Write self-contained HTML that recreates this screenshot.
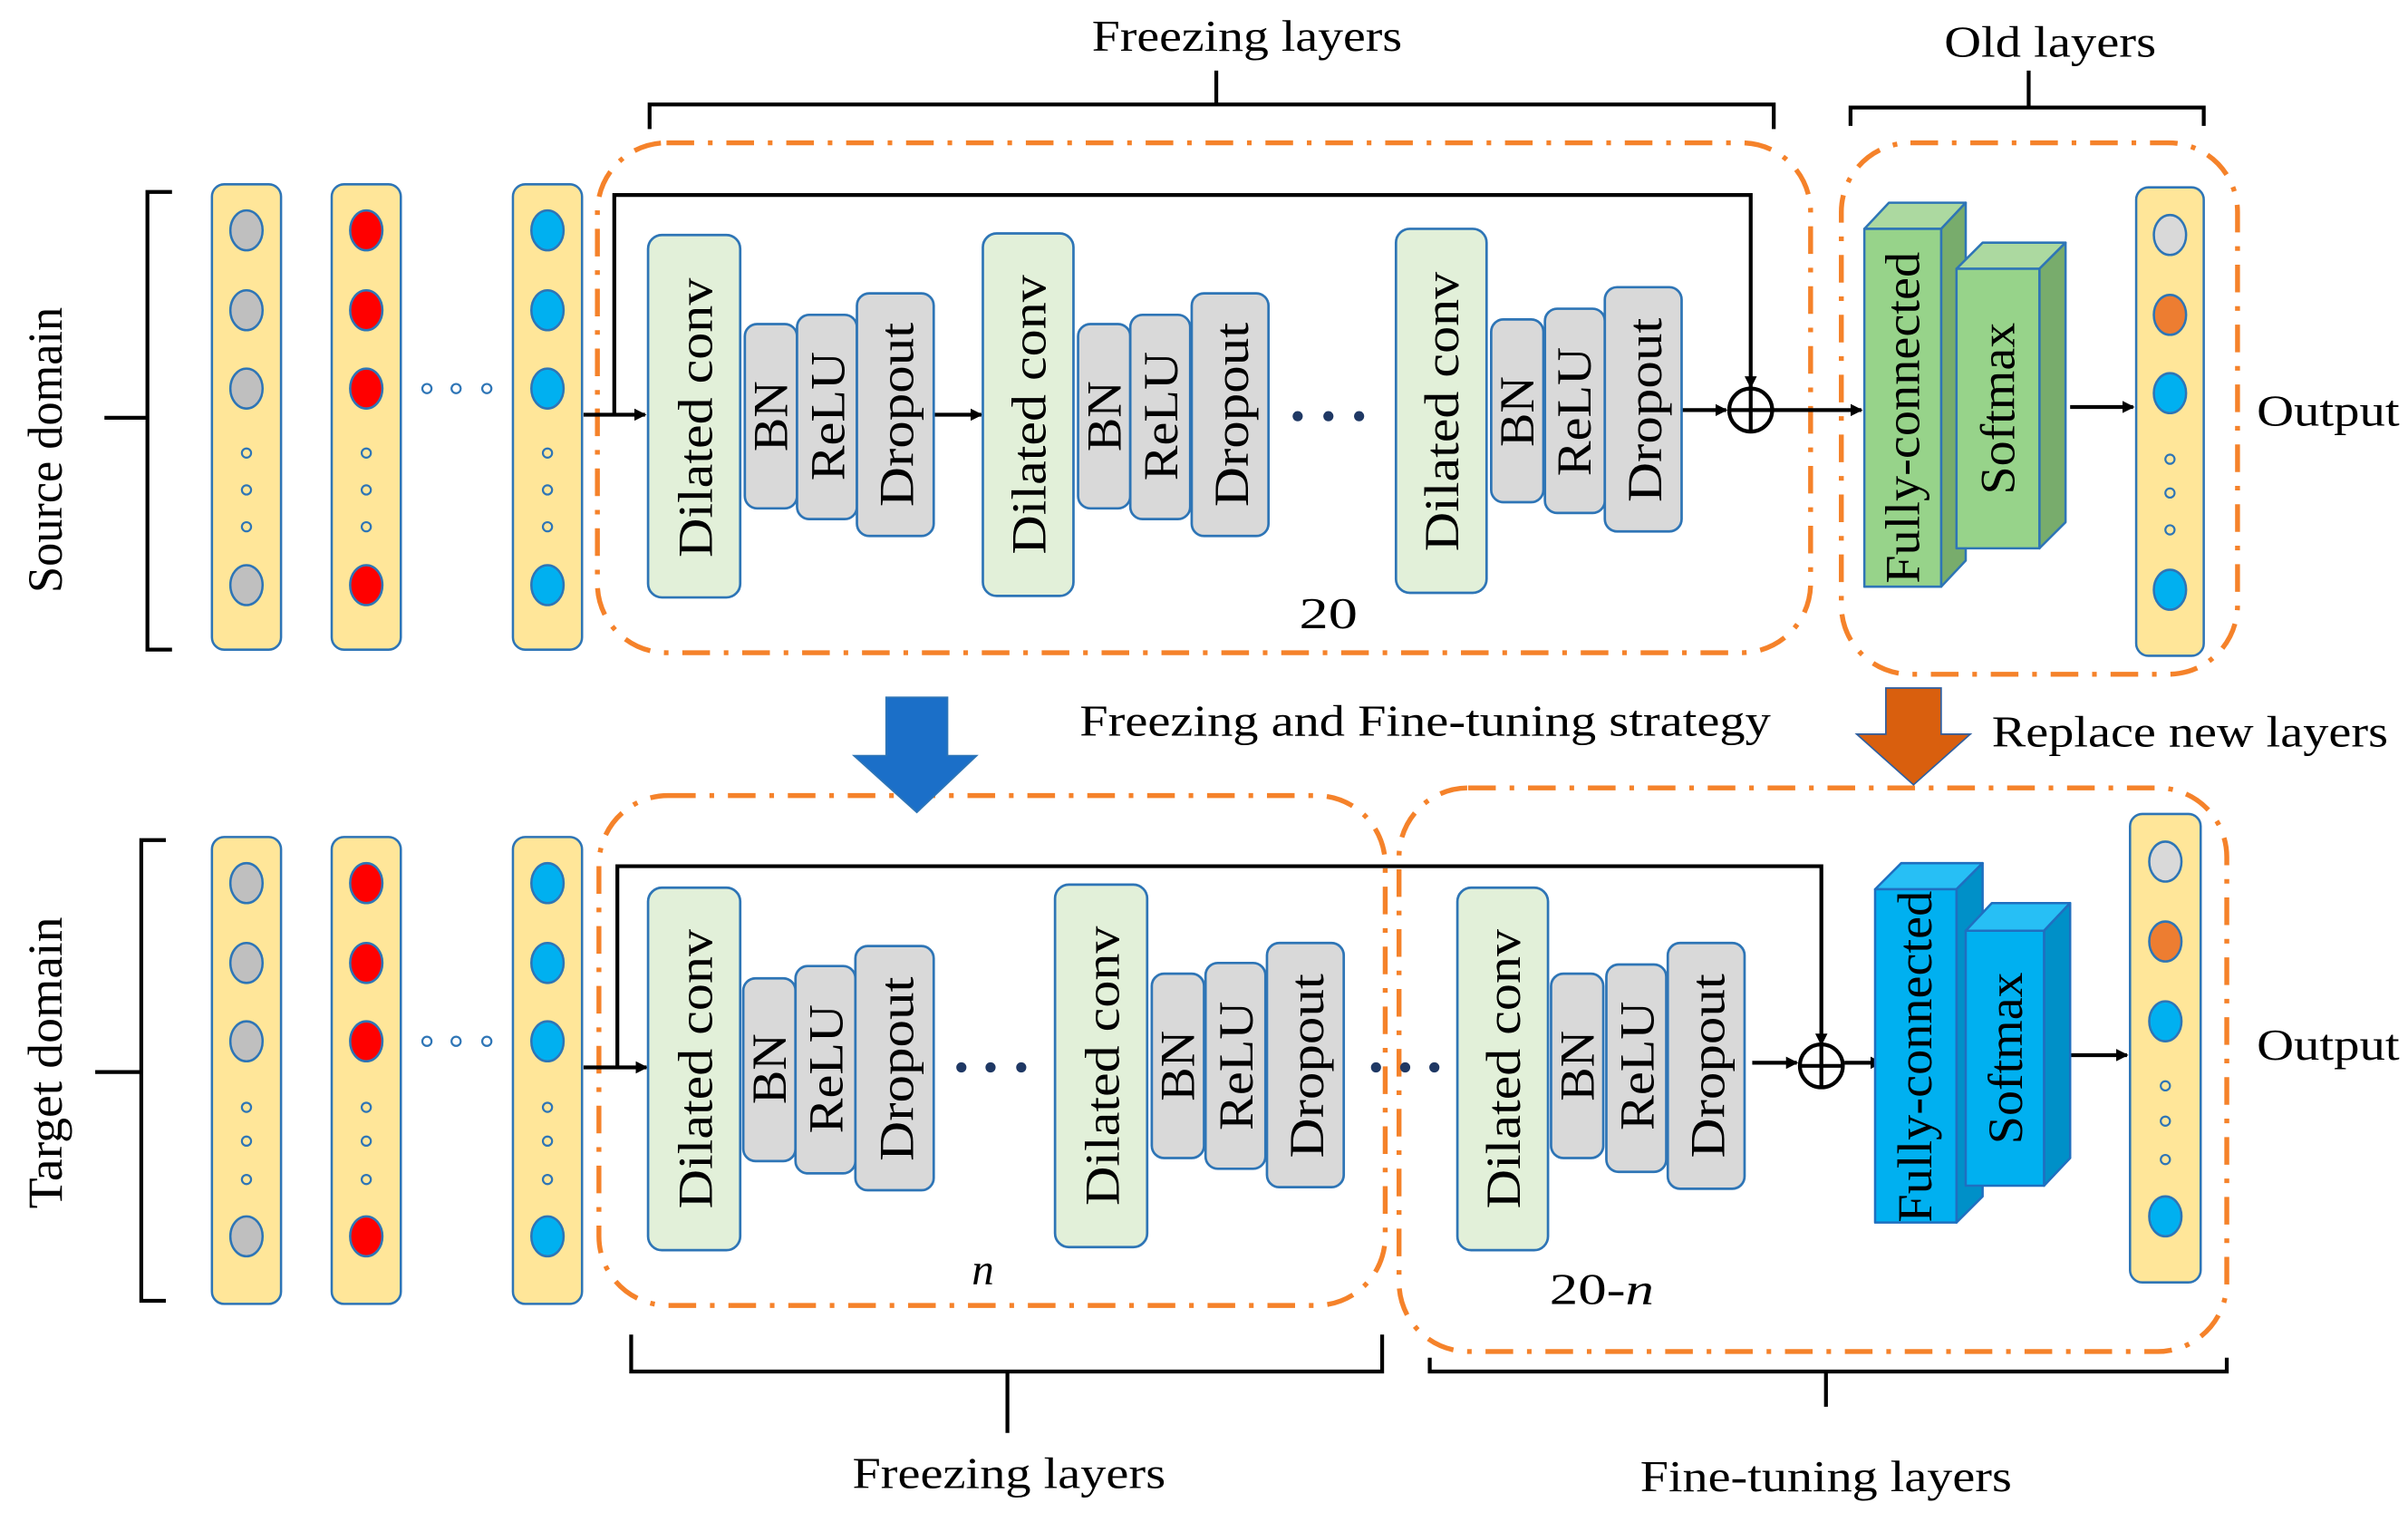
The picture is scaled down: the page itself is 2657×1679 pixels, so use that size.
<!DOCTYPE html>
<html><head><meta charset="utf-8"><style>html,body{margin:0;padding:0;background:#fff}svg{display:block}svg text{font-family:"Liberation Serif","Times New Roman",Times,serif}</style></head>
<body>
<svg width="2657" height="1679" viewBox="0 0 1568 991" preserveAspectRatio="none" xmlns="http://www.w3.org/2000/svg" style="font-family:'Liberation Serif','Times New Roman',serif">
<defs>
<marker id="ah" markerWidth="8" markerHeight="8" refX="7" refY="4" orient="auto" markerUnits="userSpaceOnUse"><path d="M0,0 L8,4 L0,8 Z" fill="#000"/></marker>
</defs>
<rect width="1568" height="991" fill="#fff"/>

<g fill="none" stroke="#f5822a" stroke-width="3.2" stroke-dasharray="18 9 3 9">
<rect x="389" y="93" width="790" height="332" rx="45"/>
<rect x="1199" y="93" width="258" height="346" rx="45"/>
<rect x="390" y="518" width="512" height="332" rx="45"/>
<rect x="911" y="513" width="539" height="367" rx="45"/>
</g>

<g fill="none" stroke="#000" stroke-width="2.5">
<path d="M423,84 V68 H1155 V84 M792,68 V46"/>
<path d="M1205,82 V70 H1435 V82 M1321,70 V46"/>
<path d="M411,869 V893 H900 V869 M656,893 V933"/>
<path d="M931,884 V893 H1450 V884 M1189,893 V916"/>
<path d="M112,125 H96 V423 H112 M68,272 H96"/>
<path d="M108,547 H92 V847 H108 M62,698 H92"/>
</g>

<g font-size="29" fill="#000">
<text x="812" y="33" text-anchor="middle" textLength="202" lengthAdjust="spacingAndGlyphs">Freezing layers</text>
<text x="1335" y="37" text-anchor="middle" textLength="138" lengthAdjust="spacingAndGlyphs">Old layers</text>
<text x="928" y="479" text-anchor="middle" textLength="450" lengthAdjust="spacingAndGlyphs">Freezing and Fine-tuning strategy</text>
<text x="1426" y="486" text-anchor="middle" textLength="258" lengthAdjust="spacingAndGlyphs">Replace new layers</text>
<text x="1516" y="277" text-anchor="middle" textLength="93" lengthAdjust="spacingAndGlyphs">Output</text>
<text x="1516" y="690" text-anchor="middle" textLength="93" lengthAdjust="spacingAndGlyphs">Output</text>
<text x="657" y="969" text-anchor="middle" textLength="204" lengthAdjust="spacingAndGlyphs">Freezing layers</text>
<text x="1189" y="971" text-anchor="middle" textLength="242" lengthAdjust="spacingAndGlyphs">Fine-tuning layers</text>
<text x="865" y="409" text-anchor="middle" textLength="38" lengthAdjust="spacingAndGlyphs">20</text>
<text x="640" y="836" text-anchor="middle" font-style="italic">n</text>
<text x="1043" y="849" text-anchor="middle" textLength="68" lengthAdjust="spacingAndGlyphs">20-<tspan font-style="italic">n</tspan></text>
<text transform="translate(40,293) rotate(-90)" text-anchor="middle" textLength="186" lengthAdjust="spacingAndGlyphs" font-size="32">Source domain</text>
<text transform="translate(40,692) rotate(-90)" text-anchor="middle" textLength="190" lengthAdjust="spacingAndGlyphs" font-size="32">Target domain</text>
</g>

<path d="M577,454 H617 V492 H636 L597,529 L556,492 H577 Z" fill="#1b6fc8" stroke="#2e75b6" stroke-width="1"/>
<path d="M1228,448 H1264 V478 H1283 L1246,511 L1209,478 H1228 Z" fill="#d95f0e" stroke="#2e5fa0" stroke-width="1"/>

<g stroke="#2e75b6" stroke-width="1.5">
<rect x="138" y="120" width="45" height="303" rx="8" fill="#ffe699"/>
<rect x="216" y="120" width="45" height="303" rx="8" fill="#ffe699"/>
<rect x="334" y="120" width="45" height="303" rx="8" fill="#ffe699"/>
<rect x="138" y="545" width="45" height="304" rx="8" fill="#ffe699"/>
<rect x="216" y="545" width="45" height="304" rx="8" fill="#ffe699"/>
<rect x="334" y="545" width="45" height="304" rx="8" fill="#ffe699"/>
<rect x="1391" y="122" width="44" height="305" rx="8" fill="#ffe699"/>
<rect x="1387" y="530" width="46" height="305" rx="8" fill="#ffe699"/>
</g>
<g stroke="#2e75b6" stroke-width="1.5">
<ellipse cx="160.5" cy="150" rx="10.5" ry="13" fill="#bfbfbf"/><ellipse cx="160.5" cy="202" rx="10.5" ry="13" fill="#bfbfbf"/><ellipse cx="160.5" cy="253" rx="10.5" ry="13" fill="#bfbfbf"/><ellipse cx="160.5" cy="381" rx="10.5" ry="13" fill="#bfbfbf"/>
<ellipse cx="238.5" cy="150" rx="10.5" ry="13" fill="#ff0000"/><ellipse cx="238.5" cy="202" rx="10.5" ry="13" fill="#ff0000"/><ellipse cx="238.5" cy="253" rx="10.5" ry="13" fill="#ff0000"/><ellipse cx="238.5" cy="381" rx="10.5" ry="13" fill="#ff0000"/>
<ellipse cx="356.5" cy="150" rx="10.5" ry="13" fill="#00b0f0"/><ellipse cx="356.5" cy="202" rx="10.5" ry="13" fill="#00b0f0"/><ellipse cx="356.5" cy="253" rx="10.5" ry="13" fill="#00b0f0"/><ellipse cx="356.5" cy="381" rx="10.5" ry="13" fill="#00b0f0"/>
<ellipse cx="160.5" cy="575" rx="10.5" ry="13" fill="#bfbfbf"/><ellipse cx="160.5" cy="627" rx="10.5" ry="13" fill="#bfbfbf"/><ellipse cx="160.5" cy="678" rx="10.5" ry="13" fill="#bfbfbf"/><ellipse cx="160.5" cy="805" rx="10.5" ry="13" fill="#bfbfbf"/>
<ellipse cx="238.5" cy="575" rx="10.5" ry="13" fill="#ff0000"/><ellipse cx="238.5" cy="627" rx="10.5" ry="13" fill="#ff0000"/><ellipse cx="238.5" cy="678" rx="10.5" ry="13" fill="#ff0000"/><ellipse cx="238.5" cy="805" rx="10.5" ry="13" fill="#ff0000"/>
<ellipse cx="356.5" cy="575" rx="10.5" ry="13" fill="#00b0f0"/><ellipse cx="356.5" cy="627" rx="10.5" ry="13" fill="#00b0f0"/><ellipse cx="356.5" cy="678" rx="10.5" ry="13" fill="#00b0f0"/><ellipse cx="356.5" cy="805" rx="10.5" ry="13" fill="#00b0f0"/>
<ellipse cx="1413" cy="153" rx="10.5" ry="13" fill="#d9d9d9"/><ellipse cx="1413" cy="205" rx="10.5" ry="13" fill="#ed7d31"/><ellipse cx="1413" cy="256" rx="10.5" ry="13" fill="#00b0f0"/><ellipse cx="1413" cy="384" rx="10.5" ry="13" fill="#00b0f0"/>
<ellipse cx="1410" cy="561" rx="10.5" ry="13" fill="#d9d9d9"/><ellipse cx="1410" cy="613" rx="10.5" ry="13" fill="#ed7d31"/><ellipse cx="1410" cy="665" rx="10.5" ry="13" fill="#00b0f0"/><ellipse cx="1410" cy="792" rx="10.5" ry="13" fill="#00b0f0"/>
</g>
<g fill="none" stroke="#2e75b6" stroke-width="1.3">
<circle cx="160.5" cy="295" r="3"/><circle cx="160.5" cy="319" r="3"/><circle cx="160.5" cy="343" r="3"/>
<circle cx="238.5" cy="295" r="3"/><circle cx="238.5" cy="319" r="3"/><circle cx="238.5" cy="343" r="3"/>
<circle cx="356.5" cy="295" r="3"/><circle cx="356.5" cy="319" r="3"/><circle cx="356.5" cy="343" r="3"/>
<circle cx="278" cy="253" r="3"/><circle cx="297" cy="253" r="3"/><circle cx="317" cy="253" r="3"/>
<circle cx="160.5" cy="721" r="3"/><circle cx="160.5" cy="743" r="3"/><circle cx="160.5" cy="768" r="3"/>
<circle cx="238.5" cy="721" r="3"/><circle cx="238.5" cy="743" r="3"/><circle cx="238.5" cy="768" r="3"/>
<circle cx="356.5" cy="721" r="3"/><circle cx="356.5" cy="743" r="3"/><circle cx="356.5" cy="768" r="3"/>
<circle cx="278" cy="678" r="3"/><circle cx="297" cy="678" r="3"/><circle cx="317" cy="678" r="3"/>
<circle cx="1413" cy="299" r="3"/><circle cx="1413" cy="321" r="3"/><circle cx="1413" cy="345" r="3"/>
<circle cx="1410" cy="707" r="3"/><circle cx="1410" cy="730" r="3"/><circle cx="1410" cy="755" r="3"/>
</g>

<g fill="none" stroke="#000" stroke-width="2.5">
<path d="M380,270 H420" marker-end="url(#ah)"/>
<path d="M400,270 V127 H1140 V252" marker-end="url(#ah)"/>
<path d="M608,270 H639" marker-end="url(#ah)"/>
<path d="M1095,267 H1124" marker-end="url(#ah)"/>
<path d="M1155,267 H1212" marker-end="url(#ah)"/>
<path d="M1348,265 H1389" marker-end="url(#ah)"/>
<circle cx="1140" cy="267" r="14"/><path d="M1126,267 H1154 M1140,253 V281"/>
<path d="M380,695 H421" marker-end="url(#ah)"/>
<path d="M402,695 V564 H1186 V680" marker-end="url(#ah)"/>
<path d="M1141,692 H1170" marker-end="url(#ah)"/>
<path d="M1201,692 H1225" marker-end="url(#ah)"/>
<path d="M1348,687 H1385" marker-end="url(#ah)"/>
<circle cx="1186" cy="694" r="14"/><path d="M1172,694 H1200 M1186,680 V708"/>
</g>
<g fill="#1f3864">
<circle cx="845" cy="271" r="3.3"/><circle cx="865" cy="271" r="3.3"/><circle cx="885" cy="271" r="3.3"/>
<circle cx="626" cy="695" r="3.3"/><circle cx="645" cy="695" r="3.3"/><circle cx="665" cy="695" r="3.3"/>
<circle cx="896" cy="695" r="3.3"/><circle cx="915" cy="695" r="3.3"/><circle cx="934" cy="695" r="3.3"/>
</g>

<g stroke="#2e75b6" stroke-width="1.6">
<rect x="422" y="153" width="60" height="236" rx="9" fill="#e2f0d9"/>
<rect x="485" y="211" width="34" height="120" rx="8" fill="#d9d9d9"/>
<rect x="519" y="205" width="39" height="133" rx="8" fill="#d9d9d9"/>
<rect x="558" y="191" width="50" height="158" rx="8" fill="#d9d9d9"/>
<rect x="640" y="152" width="59" height="236" rx="9" fill="#e2f0d9"/>
<rect x="702" y="211" width="34" height="120" rx="8" fill="#d9d9d9"/>
<rect x="736" y="205" width="39" height="133" rx="8" fill="#d9d9d9"/>
<rect x="776" y="191" width="50" height="158" rx="8" fill="#d9d9d9"/>
<rect x="909" y="149" width="59" height="237" rx="9" fill="#e2f0d9"/>
<rect x="971" y="208" width="34" height="119" rx="8" fill="#d9d9d9"/>
<rect x="1006" y="201" width="39" height="133" rx="8" fill="#d9d9d9"/>
<rect x="1045" y="187" width="50" height="159" rx="8" fill="#d9d9d9"/>
<rect x="422" y="578" width="60" height="236" rx="9" fill="#e2f0d9"/>
<rect x="484" y="637" width="34" height="119" rx="8" fill="#d9d9d9"/>
<rect x="518" y="629" width="39" height="135" rx="8" fill="#d9d9d9"/>
<rect x="557" y="616" width="51" height="159" rx="8" fill="#d9d9d9"/>
<rect x="687" y="576" width="60" height="236" rx="9" fill="#e2f0d9"/>
<rect x="750" y="634" width="34" height="120" rx="8" fill="#d9d9d9"/>
<rect x="785" y="627" width="39" height="134" rx="8" fill="#d9d9d9"/>
<rect x="825" y="614" width="50" height="159" rx="8" fill="#d9d9d9"/>
<rect x="949" y="578" width="59" height="236" rx="9" fill="#e2f0d9"/>
<rect x="1010" y="634" width="34" height="120" rx="8" fill="#d9d9d9"/>
<rect x="1046" y="628" width="39" height="135" rx="8" fill="#d9d9d9"/>
<rect x="1086" y="614" width="50" height="160" rx="8" fill="#d9d9d9"/>
</g>
<g font-size="32" fill="#000" text-anchor="middle" dominant-baseline="central">
<text transform="translate(453,272) rotate(-90)" textLength="182" lengthAdjust="spacingAndGlyphs">Dilated conv</text>
<text transform="translate(502,271) rotate(-90)" textLength="46" lengthAdjust="spacingAndGlyphs">BN</text>
<text transform="translate(539,271) rotate(-90)" textLength="84" lengthAdjust="spacingAndGlyphs">ReLU</text>
<text transform="translate(584,270) rotate(-90)" textLength="120" lengthAdjust="spacingAndGlyphs">Dropout</text>
<text transform="translate(670,270) rotate(-90)" textLength="182" lengthAdjust="spacingAndGlyphs">Dilated conv</text>
<text transform="translate(719,271) rotate(-90)" textLength="46" lengthAdjust="spacingAndGlyphs">BN</text>
<text transform="translate(756,271) rotate(-90)" textLength="84" lengthAdjust="spacingAndGlyphs">ReLU</text>
<text transform="translate(802,270) rotate(-90)" textLength="120" lengthAdjust="spacingAndGlyphs">Dropout</text>
<text transform="translate(939,268) rotate(-90)" textLength="182" lengthAdjust="spacingAndGlyphs">Dilated conv</text>
<text transform="translate(988,268) rotate(-90)" textLength="46" lengthAdjust="spacingAndGlyphs">BN</text>
<text transform="translate(1025,268) rotate(-90)" textLength="84" lengthAdjust="spacingAndGlyphs">ReLU</text>
<text transform="translate(1071,267) rotate(-90)" textLength="120" lengthAdjust="spacingAndGlyphs">Dropout</text>
<text transform="translate(453,696) rotate(-90)" textLength="182" lengthAdjust="spacingAndGlyphs">Dilated conv</text>
<text transform="translate(501,696) rotate(-90)" textLength="46" lengthAdjust="spacingAndGlyphs">BN</text>
<text transform="translate(538,696) rotate(-90)" textLength="84" lengthAdjust="spacingAndGlyphs">ReLU</text>
<text transform="translate(584,696) rotate(-90)" textLength="120" lengthAdjust="spacingAndGlyphs">Dropout</text>
<text transform="translate(718,694) rotate(-90)" textLength="182" lengthAdjust="spacingAndGlyphs">Dilated conv</text>
<text transform="translate(767,694) rotate(-90)" textLength="46" lengthAdjust="spacingAndGlyphs">BN</text>
<text transform="translate(805,694) rotate(-90)" textLength="84" lengthAdjust="spacingAndGlyphs">ReLU</text>
<text transform="translate(851,694) rotate(-90)" textLength="120" lengthAdjust="spacingAndGlyphs">Dropout</text>
<text transform="translate(979,696) rotate(-90)" textLength="182" lengthAdjust="spacingAndGlyphs">Dilated conv</text>
<text transform="translate(1027,694) rotate(-90)" textLength="46" lengthAdjust="spacingAndGlyphs">BN</text>
<text transform="translate(1066,694) rotate(-90)" textLength="84" lengthAdjust="spacingAndGlyphs">ReLU</text>
<text transform="translate(1112,694) rotate(-90)" textLength="120" lengthAdjust="spacingAndGlyphs">Dropout</text>
</g>

<g stroke="#2e75b6" stroke-width="1.5" stroke-linejoin="round">
<path d="M1214,149 L1230,132 H1280 L1264,149 Z" fill="#acd9a0"/>
<path d="M1264,149 L1280,132 V365 L1264,382 Z" fill="#78ac6c"/>
<rect x="1214" y="149" width="50" height="233" fill="#97d38a"/>
<path d="M1274,175 L1291,158 H1345 L1328,175 Z" fill="#acd9a0"/>
<path d="M1328,175 L1345,158 V340 L1328,357 Z" fill="#78ac6c"/>
<rect x="1274" y="175" width="54" height="182" fill="#97d38a"/>
</g>
<g stroke="#1f6fc0" stroke-width="1.5" stroke-linejoin="round">
<path d="M1221,579 L1238,562 H1291 L1274,579 Z" fill="#27bff5"/>
<path d="M1274,579 L1291,562 V779 L1274,796 Z" fill="#0090c8"/>
<rect x="1221" y="579" width="53" height="217" fill="#00b0f0"/>
<path d="M1280,606 L1297,588 H1348 L1331,606 Z" fill="#27bff5"/>
<path d="M1331,606 L1348,588 V754 L1331,772 Z" fill="#0090c8"/>
<rect x="1280" y="606" width="51" height="166" fill="#00b0f0"/>
</g>
<g font-size="32" fill="#000" text-anchor="middle" dominant-baseline="central">
<text transform="translate(1239,272) rotate(-90)" textLength="216" lengthAdjust="spacingAndGlyphs">Fully-connected</text>
<text transform="translate(1301,266) rotate(-90)" textLength="112" lengthAdjust="spacingAndGlyphs">Softmax</text>
<text transform="translate(1247,688) rotate(-90)" textLength="216" lengthAdjust="spacingAndGlyphs">Fully-connected</text>
<text transform="translate(1306,689) rotate(-90)" textLength="112" lengthAdjust="spacingAndGlyphs">Softmax</text>
</g>
</svg>
</body></html>
